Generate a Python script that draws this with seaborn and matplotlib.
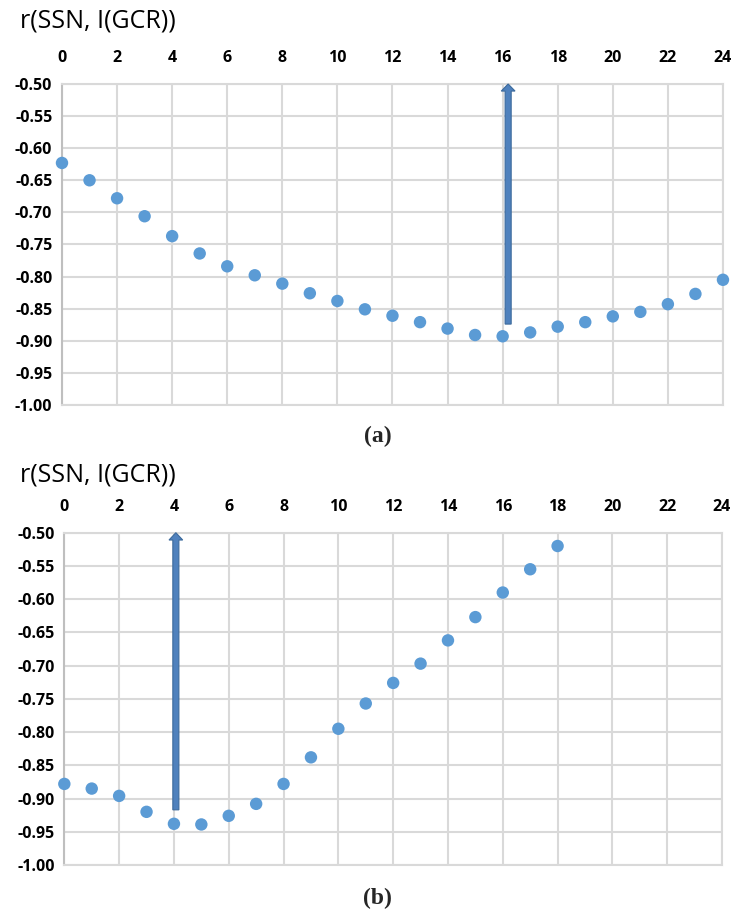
#!/usr/bin/env python3
"""Correlation r(SSN, I(GCR)) versus lag, two panels (a) and (b)."""

import matplotlib
matplotlib.use("Agg")
import matplotlib.pyplot as plt
import numpy as np
import pandas as pd
import seaborn as sns

# Panel (a): lags 0..24
lag_a = list(range(0, 25))
r_a = [-0.623, -0.650, -0.678, -0.706, -0.737, -0.764, -0.784, -0.798,
       -0.811, -0.826, -0.838, -0.851, -0.861, -0.871, -0.881, -0.891,
       -0.893, -0.887, -0.878, -0.871, -0.862, -0.855, -0.843, -0.827,
       -0.805]

# Panel (b): lags 0..18
lag_b = list(range(0, 19))
r_b = [-0.878, -0.885, -0.896, -0.920, -0.938, -0.939, -0.926, -0.908,
       -0.878, -0.838, -0.795, -0.757, -0.726, -0.697, -0.662, -0.627,
       -0.590, -0.555, -0.520]

# Arrows marking the chosen lag
arrow_x = [16.2, 4.07]
arrow_from = [-0.874, -0.917]
arrow_to = [-0.50, -0.50]

panel_labels = ["(a)", "(b)"]
title = "r(SSN, I(GCR))"
x_ticks = list(range(0, 25, 2))
y_ticks = [-1.00, -0.95, -0.90, -0.85, -0.80, -0.75, -0.70, -0.65,
           -0.60, -0.55, -0.50]

sns.set_style("whitegrid")
plt.rcParams["font.family"] = ["Open Sans", "DejaVu Sans"]

POINT = "#5B9BD5"
ARROW_FC = "#4F81BD"
ARROW_EC = "#3C6A9C"
GRID = "#D9D9D9"

fig = plt.figure(figsize=(7.31, 9.21), dpi=100)
boxes = [[0.0848, 0.5603, 0.9042, 0.3485],
         [0.0880, 0.0608, 0.8997, 0.3608]]
datasets = [(lag_a, r_a), (lag_b, r_b)]
title_y = [0.977, 0.484]
label_y = [0.526, 0.025]

for i, (box, (lx, ry)) in enumerate(zip(boxes, datasets)):
    ax = fig.add_axes(box)
    df = pd.DataFrame({"lag": lx, "r": ry})
    sns.scatterplot(data=df, x="lag", y="r", ax=ax, color=POINT, s=80,
                    edgecolor="none", zorder=3, clip_on=False)

    ax.arrow(arrow_x[i], arrow_from[i], 0, arrow_to[i] - arrow_from[i],
             width=0.22, head_width=0.5, head_length=0.011,
             length_includes_head=True, fc=ARROW_FC, ec=ARROW_EC,
             lw=0.8, zorder=4, clip_on=False)

    ax.set_xlim(0, 24)
    ax.set_ylim(-1.0, -0.5)
    ax.set_xticks(x_ticks)
    ax.set_yticks(y_ticks)
    ax.set_yticklabels([f"{v:.2f}" for v in y_ticks])
    ax.xaxis.tick_top()
    ax.tick_params(axis="both", length=0, labelsize=11.5, colors="#000000")
    ax.tick_params(axis="x", pad=13)
    ax.tick_params(axis="y", pad=7)
    for lab in ax.get_xticklabels() + ax.get_yticklabels():
        lab.set_fontweight("bold")
    ax.set_xlabel("")
    ax.set_ylabel("")
    ax.grid(True, color=GRID, lw=1.5)
    for side, sp in ax.spines.items():
        sp.set_color(GRID)
        sp.set_linewidth(1.5)
    ax.spines["left"].set_color("#BFBFBF")

    fig.text(0.027, title_y[i], title, fontsize=18, ha="left", va="center",
             color="#000000")
    fig.text(0.517, label_y[i], panel_labels[i], fontsize=17,
             fontweight="bold", family=["Liberation Serif", "DejaVu Serif"],
             ha="center", va="center")

fig.savefig("out.png", dpi=100)
